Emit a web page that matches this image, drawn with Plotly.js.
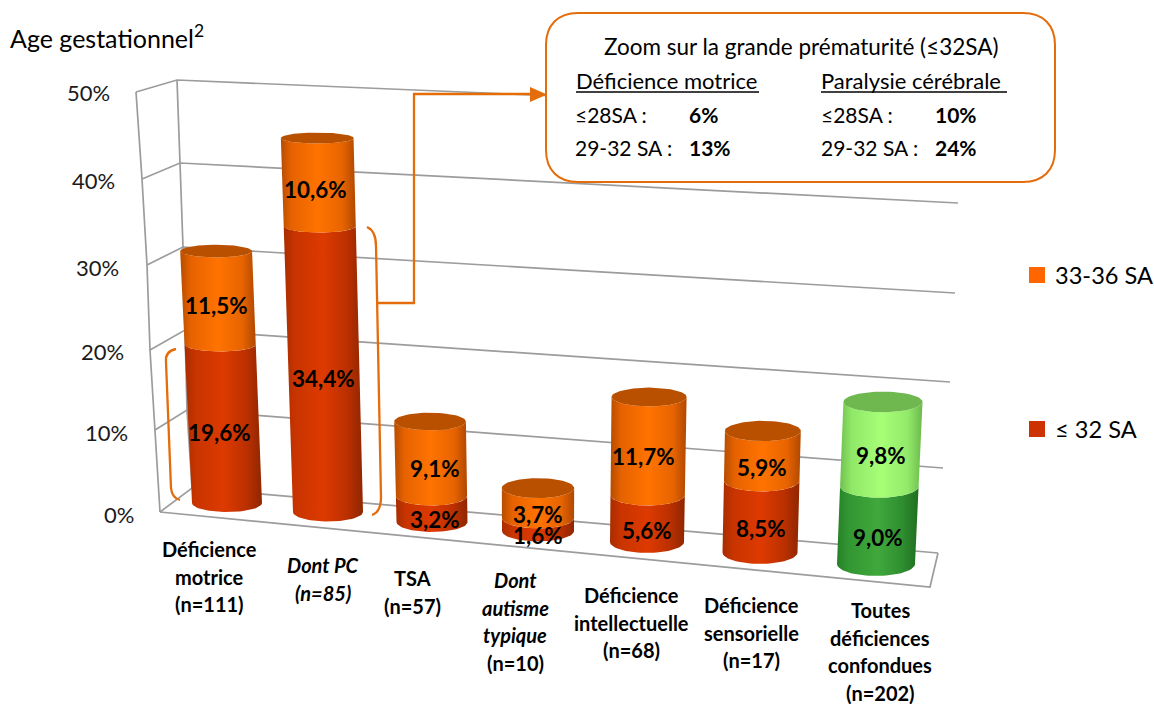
<!DOCTYPE html>
<html>
<head>
<meta charset="utf-8">
<script src="https://cdn.plot.ly/plotly-3.0.1.min.js"></script>
<style>html,body{margin:0;padding:0;background:#fff}#chart{width:1154px;height:704px}</style>
</head>
<body>
<div id="chart"></div>
<script>
// Prevalence of impairments by gestational age, values in percent
const categoryLines = [
  ['Déficience', 'motrice', '(n=111)'],
  ['<i>Dont PC</i>', '<i>(n=85)</i>'],
  ['TSA', '(n=57)'],
  ['<i>Dont</i>', '<i>autisme</i>', '<i>typique</i>', '(n=10)'],
  ['Déficience', 'intellectuelle', '(n=68)'],
  ['Déficience', 'sensorielle', '(n=17)'],
  ['Toutes', 'déficiences', 'confondues', '(n=202)']
];
const seriesVeryPreterm = [19.6, 34.4, 3.2, 1.6, 5.6, 8.5, 9.0];
const seriesModeratePreterm = [11.5, 10.6, 9.1, 3.7, 11.7, 5.9, 9.8];
const gridLevels = [0, 10, 20, 30, 40, 50];
const tickLabels = ['0%', '10%', '20%', '30%', '40%', '50%'];

// Oblique view of the chart box: where each column stands and how it scales
const floorX = [227, 328, 432, 538, 647, 760, 876];
const floorY = [503, 512, 522, 531, 542, 552.5, 564];
const pxPerPercent = [8.10, 8.31, 8.17, 8.10, 8.38, 8.44, 8.62];
const leanPerPercent = [-0.35, -0.24, -0.16, 0, 0.12, 0.2, 0.37];
const baseRadius = [35, 35, 35.5, 36, 37, 37.5, 39];
const lowLabelNudge = [-4, 0, 3, 0, 0, 0, 0];
const highLabelNudge = [-2, -3, 4, 0, -5, 0, 0];
const categoryLabelX = [209, 323, 412, 515, 631, 751, 880];
const categoryLabelY = [549, 565, 578, 580, 595, 605, 610];

// Wall corners of the box, one entry per grid level
const wallFrontX = [160, 155, 150, 147, 142, 136];
const wallFrontY = [512, 430, 350, 265, 179, 92];
const wallBackX = [192, 187, 185, 183, 180, 177];
const wallBackY = [488, 410, 330, 247, 163, 80];
const wallRightX = [938, 943, 950, 955, 958, 962];
const wallRightY = [553, 468, 382, 293, 203, 113];
const tickRight = [136, 130, 126, 121, 117, 112];
const tickY = [514, 432, 351, 267, 180, 92];

const ORANGE = {side: [[0,'#b64c00'],[0.14,'#e66200'],[0.5,'#ff7300'],[0.82,'#e86400'],[1,'#b04800']], cap: '#b85000'};
const RED = {side: [[0,'#a82c00'],[0.14,'#c83400'],[0.5,'#dd3a00'],[0.8,'#bb3000'],[1,'#8f2600']], cap: '#b03000'};
const LIGHT_GREEN = {side: [[0,'#70c050'],[0.14,'#90e868'],[0.5,'#a6ff76'],[0.82,'#92ea6a'],[1,'#6cb84c']], cap: '#6fb84f'};
const DARK_GREEN = {side: [[0,'#268026'],[0.14,'#329632'],[0.5,'#40a83c'],[0.8,'#2f8e2f'],[1,'#1f6e1f']], cap: '#2f8a2f'};
const GRID_COLOR = '#9c9c9c';
const ACCENT = '#e46c0a';
const FONT = 'Lato, "Open Sans", sans-serif';
const ELLIPSE_STEPS = 36;

// Map a percentage in column i onto the plot's coordinates
function centerAt(i, v) {
  return {x: floorX[i] + leanPerPercent[i] * v, y: floorY[i] - pxPerPercent[i] * v};
}
function radiusAt(i, v) {
  const c = centerAt(i, v);
  return {rx: baseRadius[i] + 0.03 * v, ry: 2.9 + 0.0105 * c.y + 0.0036 * c.x};
}
// Front half of a horizontal ring, sweeping from left to right (or back)
function frontArc(i, v, reverse) {
  const c = centerAt(i, v), r = radiusAt(i, v), xs = [], ys = [];
  for (let k = 0; k <= ELLIPSE_STEPS; k++) {
    const t = Math.PI * (reverse ? k : ELLIPSE_STEPS - k) / ELLIPSE_STEPS;
    xs.push(c.x + r.rx * Math.cos(t));
    ys.push(c.y + r.ry * Math.sin(t));
  }
  return {xs, ys};
}
function sideTrace(i, v0, v1, palette) {
  const low = frontArc(i, v0, false), high = frontArc(i, v1, true);
  const x = low.xs.concat(high.xs), y = low.ys.concat(high.ys);
  return {
    type: 'scatter', mode: 'lines', x: x.concat(x[0]), y: y.concat(y[0]),
    line: {width: 0}, fill: 'toself', hoverinfo: 'skip', showlegend: false,
    fillgradient: {type: 'horizontal', colorscale: palette.side}
  };
}
function capTrace(i, v, palette) {
  const c = centerAt(i, v), r = radiusAt(i, v), x = [], y = [];
  for (let k = 0; k <= ELLIPSE_STEPS * 2; k++) {
    const t = Math.PI * k / ELLIPSE_STEPS;
    x.push(c.x + r.rx * Math.cos(t));
    y.push(c.y + r.ry * Math.sin(t));
  }
  return {type: 'scatter', mode: 'lines', x, y, line: {width: 0}, fill: 'toself',
    fillcolor: palette.cap, hoverinfo: 'skip', showlegend: false};
}
function gridTrace(x, y) {
  return {type: 'scatter', mode: 'lines', x, y, hoverinfo: 'skip', showlegend: false,
    line: {color: GRID_COLOR, width: 1.7}};
}
function label(x, y, text, size, opts) {
  return Object.assign({
    x, y, xref: 'x', yref: 'y', text, showarrow: false, xanchor: 'center', yanchor: 'middle',
    font: {family: FONT, size, color: '#000'}
  }, opts || {});
}

const traces = [];
const annotations = [];

// Chart box: grid lines on the walls, then floor and wall edges
gridLevels.forEach((g, n) => {
  traces.push(gridTrace([wallFrontX[n], wallBackX[n], wallRightX[n]], [wallFrontY[n], wallBackY[n], wallRightY[n]]));
});
traces.push(gridTrace(wallFrontX, wallFrontY));
traces.push(gridTrace(wallBackX, wallBackY));
traces.push(gridTrace([wallFrontX[0], 930, wallRightX[0]], [wallFrontY[0], 587, wallRightY[0]]));

// Stacked cylinders
seriesVeryPreterm.forEach((low, i) => {
  const total = low + seriesModeratePreterm[i];
  const isTotal = i === seriesVeryPreterm.length - 1;
  traces.push(sideTrace(i, 0, low, isTotal ? DARK_GREEN : RED));
  traces.push(sideTrace(i, low, total, isTotal ? LIGHT_GREEN : ORANGE));
  traces.push(capTrace(i, total, isTotal ? LIGHT_GREEN : ORANGE));

  const fmt = v => v.toFixed(1).replace('.', ',') + '%';
  [[0, low, lowLabelNudge[i]], [low, total, highLabelNudge[i]]].forEach(([a, b, dx]) => {
    const mid = centerAt(i, (a + b) / 2), r = radiusAt(i, (a + b) / 2);
    annotations.push(label(mid.x + dx, mid.y + r.ry + 1, '<b>' + fmt(b - a) + '</b>', 22.4));
  });
});

// Value axis
tickLabels.forEach((t, n) => {
  annotations.push(label(tickRight[n], tickY[n], t, 22, {xanchor: 'right', font: {family: FONT, size: 22, color: '#1a1a1a'}}));
});

// Category captions, one line at a time for their wide leading
categoryLines.forEach((lines, i) => {
  lines.forEach((line, k) => {
    annotations.push(label(categoryLabelX[i], categoryLabelY[i] + k * 27.6, '<b>' + line + '</b>', 20));
  });
});

annotations.push(label(8, 36, 'Age gestationnel<sup>2</sup>', 25, {xanchor: 'left'}));

// Legend keys
const legendEntries = [
  {text: '33-36 SA', y: 275, color: '#ff6600'},
  {text: '≤ 32 SA', y: 429, color: '#cc3300'}
];
legendEntries.forEach(e => {
  traces.push({type: 'scatter', mode: 'markers', x: [1037], y: [e.y], hoverinfo: 'skip', showlegend: false,
    marker: {symbol: 'square', size: 16, color: e.color}});
  annotations.push(label(1053, e.y, e.text, 23.6, {xanchor: 'left'}));
});

// Callout contents
annotations.push(label(801, 46, 'Zoom sur la grande prématurité (≤32SA)', 22.5));
annotations.push(label(574, 80, 'Déficience motrice', 22, {xanchor: 'left'}));
annotations.push(label(819, 80, 'Paralysie cérébrale', 22, {xanchor: 'left'}));
const calloutRows = [
  {y: 114, left: '≤28SA :', leftValue: '6%', right: '≤28SA :', rightValue: '10%'},
  {y: 147, left: '29-32 SA :', leftValue: '13%', right: '29-32 SA :', rightValue: '24%'}
];
calloutRows.forEach(r => {
  annotations.push(label(573, r.y, r.left, 21, {xanchor: 'left'}));
  annotations.push(label(687, r.y, '<b>' + r.leftValue + '</b>', 21, {xanchor: 'left'}));
  annotations.push(label(819, r.y, r.right, 21, {xanchor: 'left'}));
  annotations.push(label(933, r.y, '<b>' + r.rightValue + '</b>', 21, {xanchor: 'left'}));
});

const bracketLine = {color: ACCENT, width: 2.3};
const shapes = [
  // Rounded callout frame
  {type: 'path', xref: 'x', yref: 'y', layer: 'above', fillcolor: '#fff', line: {color: ACCENT, width: 2},
   path: 'M578 13 H1023 C1043 13 1055 25 1055 45 V150 C1055 170 1043 182 1023 182 H578 C558 182 546 170 546 150 V45 C546 25 558 13 578 13 Z'},
  // Rules under the two callout headings
  {type: 'line', xref: 'x', yref: 'y', layer: 'above', x0: 576, x1: 759, y0: 92, y1: 92, line: {color: '#000', width: 1.3}},
  {type: 'line', xref: 'x', yref: 'y', layer: 'above', x0: 821, x1: 1007, y0: 92, y1: 92, line: {color: '#000', width: 1.3}},
  // Braces beside the two tall columns
  {type: 'path', xref: 'x', yref: 'y', layer: 'above', line: bracketLine,
   path: 'M176 349 Q165 351 166 362 L171 488 Q172 498 180 500'},
  {type: 'path', xref: 'x', yref: 'y', layer: 'above', line: bracketLine,
   path: 'M367 227 Q376 231 376 246 L381 497 Q381 512 372 515'},
  // Elbow connector and its arrowhead
  {type: 'path', xref: 'x', yref: 'y', layer: 'above', line: bracketLine,
   path: 'M378 303 H414 V94 H532'},
  {type: 'path', xref: 'x', yref: 'y', layer: 'above', fillcolor: ACCENT, line: {width: 0},
   path: 'M530 87 L547 94.5 L530 102 Z'}
];

const layout = {
  width: 1154, height: 704, autosize: false, showlegend: false,
  margin: {l: 0, r: 0, t: 0, b: 0},
  paper_bgcolor: '#fff', plot_bgcolor: '#fff',
  xaxis: {range: [0, 1154], visible: false, fixedrange: true},
  yaxis: {range: [704, 0], visible: false, fixedrange: true},
  shapes, annotations
};
Plotly.newPlot('chart', traces, layout, {displayModeBar: false, staticPlot: true});
</script>
</body>
</html>
